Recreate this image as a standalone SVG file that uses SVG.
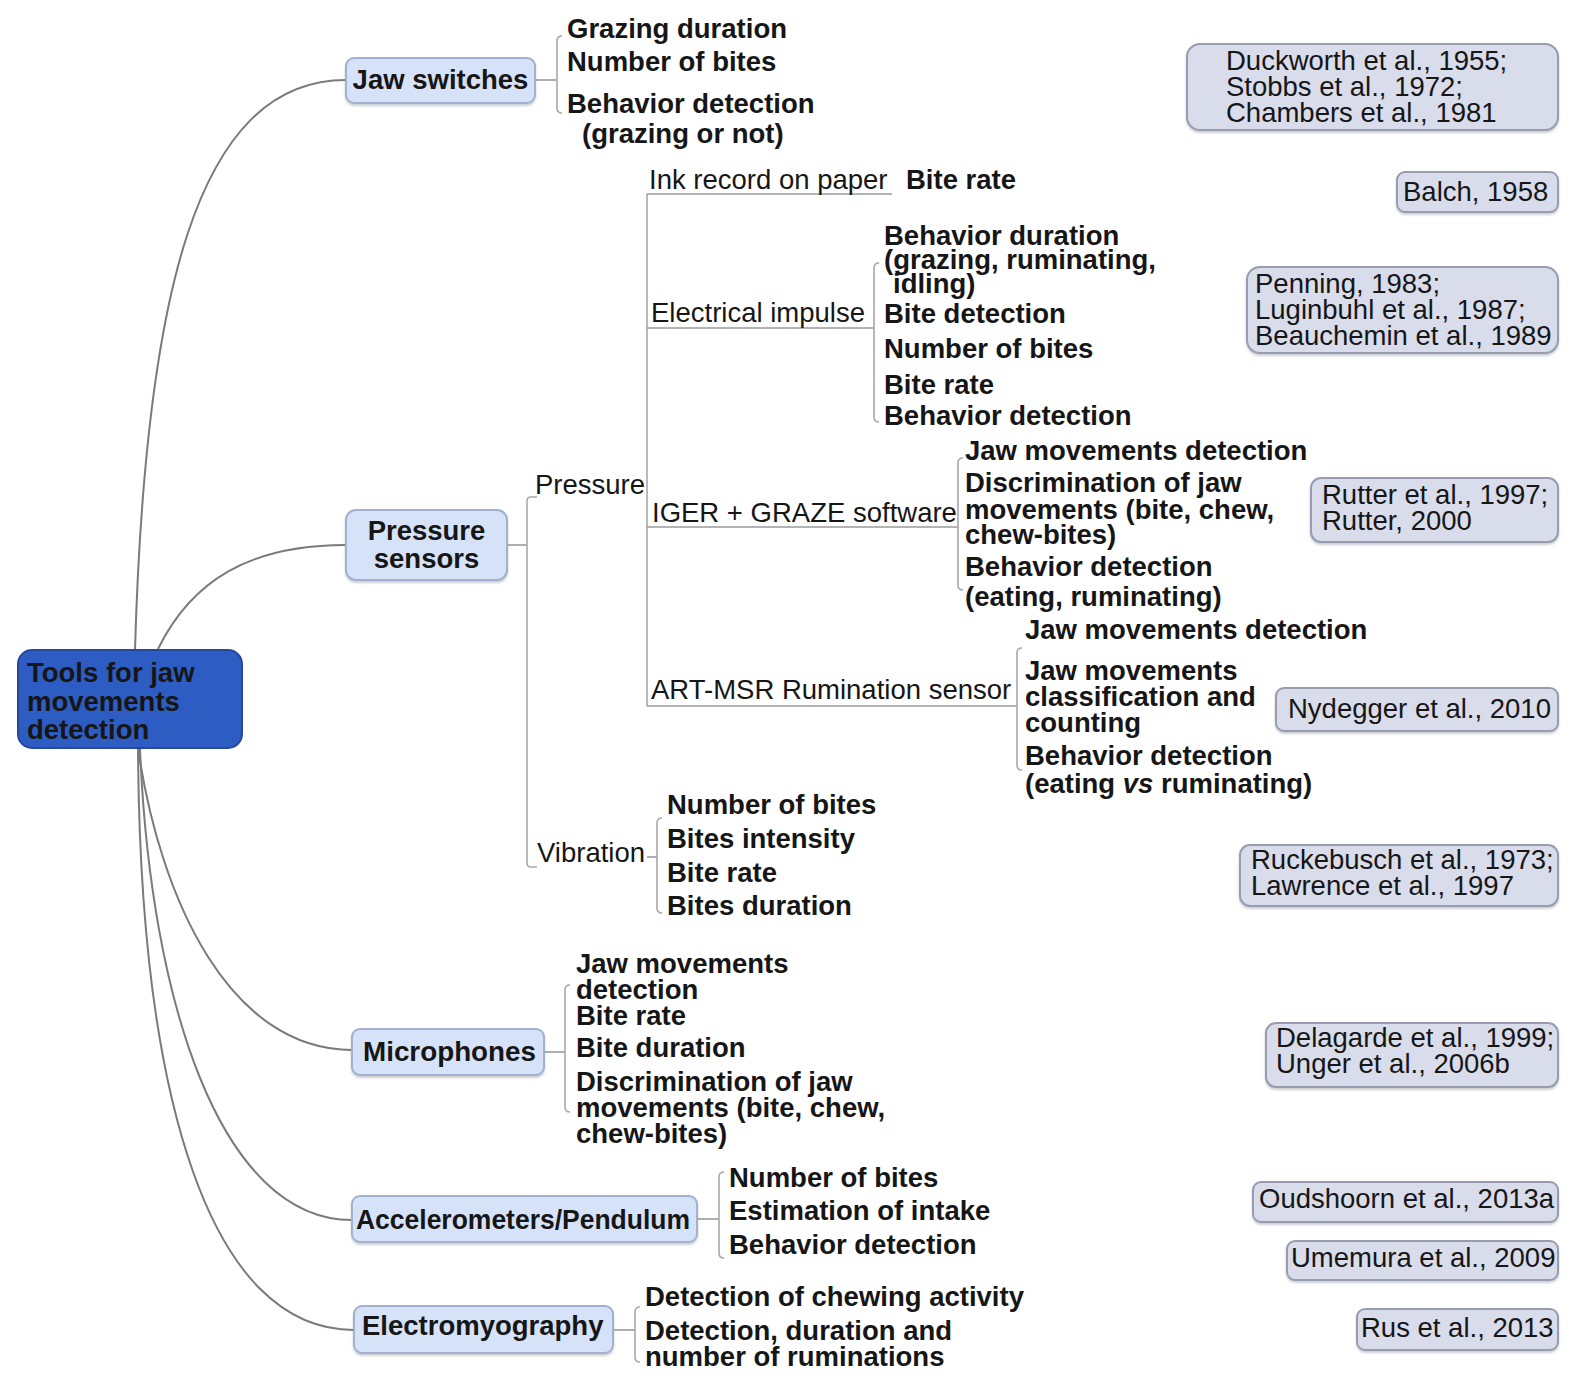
<svg xmlns="http://www.w3.org/2000/svg" width="1574" height="1380" viewBox="0 0 1574 1380">
  <style>
    text { font-family: "Liberation Sans", Arial, sans-serif; font-size: 27.5px; fill: #161616; }
    .b { font-weight: bold; }
    .root-box { fill: #2d5cc2; stroke: #27489a; stroke-width: 2; }
    .tool-box { fill: #d6e2f8; stroke: #a2b1cf; stroke-width: 2; filter: url(#soft); }
    .ref-box { fill: #d9dcea; stroke: #979cb0; stroke-width: 2; filter: url(#soft); }
    .curve { fill: none; stroke: #7a7a7a; stroke-width: 2; }
    .link { fill: none; stroke: #9a9a9a; stroke-width: 1.6; }
    .brace { fill: none; stroke: #a8a8a8; stroke-width: 1.6; }
  </style>
  <defs>
    <filter id="soft" x="-5%" y="-10%" width="110%" height="130%">
      <feDropShadow dx="0" dy="2" stdDeviation="1" flood-color="#707480" flood-opacity="0.35"/>
    </filter>
  </defs>

  <rect width="1574" height="1380" fill="#ffffff"/>

  <!-- connectors: root curves, tool links, branch lines and braces -->
  <g id="connectors">
    <path class="curve" d="M135,650 C145,300 195,80 346,80"/>
    <path class="curve" d="M158,649 C192,580 250,545 346,545"/>
    <path class="curve" d="M138,748 C160,900 230,1050 352,1050"/>
    <path class="curve" d="M140,748 C150,1000 220,1220 352,1220"/>
    <path class="curve" d="M138,748 C140,1100 210,1330 354,1330"/>

    <!-- Jaw switches -->
    <path class="link" d="M535,80 H557"/>
    <path class="brace" d="M562,36 Q557,36 557,41 V108 Q557,113 562,113"/>

    <!-- Pressure sensors: first level (Pressure / Vibration) -->
    <path class="link" d="M507,545 H527"/>
    <path class="brace" d="M537,497 H531 Q527,497 527,501 V863 Q527,867 531,867 H537"/>

    <!-- Pressure: second level with underlined labels -->
    <path class="brace" d="M647,194 V706"/>
    <path class="link" d="M647,194 H892"/>
    <path class="link" d="M647,328 H874"/>
    <path class="link" d="M647,527 H958"/>
    <path class="link" d="M647,706 H1017"/>
    <path class="brace" d="M879,263 Q874,263 874,268 V417 Q874,422 879,422"/>
    <path class="brace" d="M963,458 Q958,458 958,463 V585 Q958,590 963,590"/>
    <path class="brace" d="M1022,648 Q1017,648 1017,653 V765 Q1017,770 1022,770"/>

    <!-- Vibration -->
    <path class="link" d="M647,857 H657"/>
    <path class="brace" d="M662,818 Q657,818 657,823 V908 Q657,913 662,913"/>

    <!-- Microphones -->
    <path class="link" d="M544,1052 H565"/>
    <path class="brace" d="M570,985 Q565,985 565,990 V1107 Q565,1112 570,1112"/>

    <!-- Accelerometers/Pendulum -->
    <path class="link" d="M697,1219 H719"/>
    <path class="brace" d="M724,1172 Q719,1172 719,1177 V1253 Q719,1258 724,1258"/>

    <!-- Electromyography -->
    <path class="link" d="M613,1330 H635"/>
    <path class="brace" d="M640,1307 Q635,1307 635,1312 V1357 Q635,1362 640,1362"/>
  </g>

  <!-- root -->
  <g id="root">
    <rect class="root-box" x="18" y="650" width="224" height="98" rx="14"/>
    <text class="b" x="27" y="682">Tools for jaw</text>
    <text class="b" x="27" y="711">movements</text>
    <text class="b" x="27" y="739">detection</text>
  </g>

  <!-- tool families -->
  <g id="jaw-switches">
    <rect class="tool-box" x="346" y="58" width="189" height="45" rx="8"/>
    <text class="b" x="440.5" y="89" text-anchor="middle">Jaw switches</text>
    <text class="b" x="567" y="38">Grazing duration</text>
    <text class="b" x="567" y="71">Number of bites</text>
    <text class="b" x="567" y="113">Behavior detection</text>
    <text class="b" x="582" y="143">(grazing or not)</text>
  </g>

  <g id="pressure-sensors">
    <rect class="tool-box" x="346" y="510" width="161" height="70" rx="10"/>
    <text class="b" x="426.5" y="540" text-anchor="middle">Pressure</text>
    <text class="b" x="426.5" y="568" text-anchor="middle">sensors</text>
  </g>

  <g id="pressure">
    <text x="535" y="494">Pressure</text>
  </g>

  <g id="ink-record">
    <text x="649" y="189">Ink record on paper</text>
    <text class="b" x="906" y="189">Bite rate</text>
  </g>

  <g id="electrical-impulse">
    <text x="651" y="322">Electrical impulse</text>
    <text class="b" x="884" y="245">Behavior duration</text>
    <text class="b" x="884" y="269">(grazing, ruminating,</text>
    <text class="b" x="893" y="293">idling)</text>
    <text class="b" x="884" y="323">Bite detection</text>
    <text class="b" x="884" y="358">Number of bites</text>
    <text class="b" x="884" y="394">Bite rate</text>
    <text class="b" x="884" y="425">Behavior detection</text>
  </g>

  <g id="iger-graze">
    <text x="652" y="522">IGER + GRAZE software</text>
    <text class="b" x="965" y="460">Jaw movements detection</text>
    <text class="b" x="965" y="492">Discrimination of jaw</text>
    <text class="b" x="965" y="519">movements (bite, chew,</text>
    <text class="b" x="965" y="544">chew-bites)</text>
    <text class="b" x="965" y="576">Behavior detection</text>
    <text class="b" x="965" y="606">(eating, ruminating)</text>
  </g>

  <g id="art-msr">
    <text x="651" y="699">ART-MSR Rumination sensor</text>
    <text class="b" x="1025" y="639">Jaw movements detection</text>
    <text class="b" x="1025" y="680">Jaw movements</text>
    <text class="b" x="1025" y="706">classification and</text>
    <text class="b" x="1025" y="732">counting</text>
    <text class="b" x="1025" y="765">Behavior detection</text>
    <text class="b" x="1025" y="793">(eating <tspan font-style="italic">vs</tspan> ruminating)</text>
  </g>

  <g id="vibration">
    <text x="537" y="862">Vibration</text>
    <text class="b" x="667" y="814">Number of bites</text>
    <text class="b" x="667" y="848">Bites intensity</text>
    <text class="b" x="667" y="882">Bite rate</text>
    <text class="b" x="667" y="915">Bites duration</text>
  </g>

  <g id="microphones">
    <rect class="tool-box" x="352" y="1029" width="192" height="46" rx="8"/>
    <text class="b" x="363" y="1061" textLength="173" lengthAdjust="spacingAndGlyphs">Microphones</text>
    <text class="b" x="576" y="973">Jaw movements</text>
    <text class="b" x="576" y="999">detection</text>
    <text class="b" x="576" y="1025">Bite rate</text>
    <text class="b" x="576" y="1057">Bite duration</text>
    <text class="b" x="576" y="1091">Discrimination of jaw</text>
    <text class="b" x="576" y="1117">movements (bite, chew,</text>
    <text class="b" x="576" y="1143">chew-bites)</text>
  </g>

  <g id="accelerometers">
    <rect class="tool-box" x="352" y="1196" width="345" height="46" rx="8"/>
    <text class="b" x="356" y="1229" textLength="334" lengthAdjust="spacingAndGlyphs">Accelerometers/Pendulum</text>
    <text class="b" x="729" y="1187">Number of bites</text>
    <text class="b" x="729" y="1220">Estimation of intake</text>
    <text class="b" x="729" y="1254">Behavior detection</text>
  </g>

  <g id="electromyography">
    <rect class="tool-box" x="354" y="1306" width="259" height="47" rx="8"/>
    <text class="b" x="362" y="1335">Electromyography</text>
    <text class="b" x="645" y="1306">Detection of chewing activity</text>
    <text class="b" x="645" y="1340">Detection, duration and</text>
    <text class="b" x="645" y="1366">number of ruminations</text>
  </g>

  <!-- references -->
  <g id="ref-jaw-switches">
    <rect class="ref-box" x="1187" y="44" width="371" height="86" rx="13"/>
    <text x="1226" y="70">Duckworth et al., 1955;</text>
    <text x="1226" y="96">Stobbs et al., 1972;</text>
    <text x="1226" y="122">Chambers et al., 1981</text>
  </g>
  <g id="ref-ink">
    <rect class="ref-box" x="1397" y="172" width="161" height="40" rx="8"/>
    <text x="1403" y="201">Balch, 1958</text>
  </g>
  <g id="ref-electrical">
    <rect class="ref-box" x="1247" y="267" width="311" height="86" rx="13"/>
    <text x="1255" y="293">Penning, 1983;</text>
    <text x="1255" y="319">Luginbuhl et al., 1987;</text>
    <text x="1255" y="345">Beauchemin et al., 1989</text>
  </g>
  <g id="ref-iger">
    <rect class="ref-box" x="1311" y="478" width="247" height="64" rx="10"/>
    <text x="1322" y="504">Rutter et al., 1997;</text>
    <text x="1322" y="530">Rutter, 2000</text>
  </g>
  <g id="ref-art">
    <rect class="ref-box" x="1276" y="688" width="282" height="43" rx="8"/>
    <text x="1288" y="718">Nydegger et al., 2010</text>
  </g>
  <g id="ref-vibration">
    <rect class="ref-box" x="1240" y="845" width="318" height="61" rx="10"/>
    <text x="1251" y="869">Ruckebusch et al., 1973;</text>
    <text x="1251" y="895">Lawrence et al., 1997</text>
  </g>
  <g id="ref-microphones">
    <rect class="ref-box" x="1266" y="1023" width="292" height="64" rx="10"/>
    <text x="1276" y="1047">Delagarde et al., 1999;</text>
    <text x="1276" y="1073">Unger et al., 2006b</text>
  </g>
  <g id="ref-accelerometers">
    <rect class="ref-box" x="1253" y="1182" width="305" height="40" rx="8"/>
    <text x="1259" y="1208">Oudshoorn et al., 2013a</text>
  </g>
  <g id="ref-pendulum">
    <rect class="ref-box" x="1287" y="1241" width="271" height="39" rx="8"/>
    <text x="1291" y="1267">Umemura et al., 2009</text>
  </g>
  <g id="ref-emg">
    <rect class="ref-box" x="1357" y="1309" width="201" height="41" rx="8"/>
    <text x="1361" y="1337">Rus et al., 2013</text>
  </g>
</svg>
